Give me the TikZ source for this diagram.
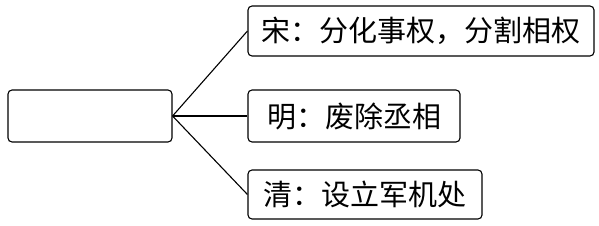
\documentclass[tikz,border=0pt]{standalone}
\usepackage{fontspec}
\newfontfamily\cjk{Noto Sans CJK SC}
\tikzset{x=1pt, y=-1pt,
    box/.style={draw, rounded corners=4pt, line width=1.1pt, inner sep=0pt,
        font=\cjk\fontsize{29}{29}\selectfont},
    link/.style={line width=1.1pt}}

\begin{document}
\begin{tikzpicture}
                \useasboundingbox (0,0) rectangle (599,225);
                \node[box, minimum width=164pt, minimum height=52pt] (root) at (90,116) {};
                \node[box, minimum width=346pt, minimum height=50pt] (song) at (421,31) {宋：分化事权，分割相权};
                \node[box, minimum width=212pt, minimum height=52pt] (ming) at (354,116) {明：废除丞相};
                \node[box, minimum width=234pt, minimum height=49pt] (qing) at (365,194.5) {清：设立军机处};
                \draw[link] (song.west) -- (root.east) -- (qing.west);
                \draw[link] (root.east) -- (ming.west);
            \end{tikzpicture}
\end{document}
